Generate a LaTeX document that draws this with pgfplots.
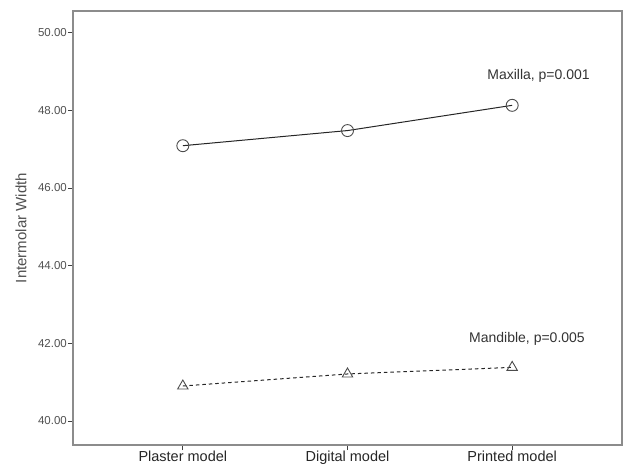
\documentclass[border=0pt]{standalone}
\usepackage{fontspec}
\setmainfont{Liberation Sans}
\usepackage{pgfplots}
\pgfplotsset{compat=1.18}
\definecolor{axgray}{HTML}{8C8C8C}
\definecolor{txgray}{HTML}{505050}
\begin{document}
\begin{tikzpicture}
\begin{axis}[
  scale only axis,
  width=549pt, height=434pt,
  xmin=-0.667, xmax=2.667,
  ymin=39.38, ymax=50.56,
  xtick={0,1,2},
  xticklabels={Plaster model, Digital model, Printed model},
  ytick={40,42,44,46,48,50},
  yticklabel style={/pgf/number format/fixed, /pgf/number format/fixed zerofill, /pgf/number format/precision=2, /pgf/number format/assume math mode=true, font=\fontsize{11.5}{12}\selectfont, text=txgray, inner xsep=1pt},
  xticklabel style={font=\fontsize{14.5}{16}\selectfont, text=black!85, inner ysep=1pt},
  ylabel={Intermolar Width},
  ylabel style={font=\fontsize{15}{16}\selectfont, text=txgray, at={(axis description cs:0,0.5)}, anchor=center, yshift=52pt},
  axis line style={axgray, line width=1.4pt},
  tick style={black!75, line width=0.8pt},
  tick align=outside,
  xtick pos=bottom, ytick pos=left,
  major tick length=5pt,
  clip=false,
]
\addplot[black!85, line width=1pt, mark=o, mark size=6pt, mark options={solid, black!70, line width=0.9pt}]
  coordinates {(0,47.09) (1,47.48) (2,48.13)};
\addplot[black!85, line width=1pt, dash pattern=on 3.5pt off 3pt, mark=triangle, mark size=6pt, mark options={solid, black!70, line width=0.9pt}]
  coordinates {(0,40.90) (1,41.21) (2,41.38)};
\node[font=\fontsize{14}{15}\selectfont, text=black!80] at (axis cs:2.16,48.88) {Maxilla, p=0.001};
\node[font=\fontsize{14}{15}\selectfont, text=black!80] at (axis cs:2.09,42.12) {Mandible, p=0.005};
\end{axis}
\useasboundingbox ([xshift=-73pt,yshift=-25pt]current axis.south west) rectangle ([xshift=3pt,yshift=11pt]current axis.north east);
\end{tikzpicture}
\end{document}
